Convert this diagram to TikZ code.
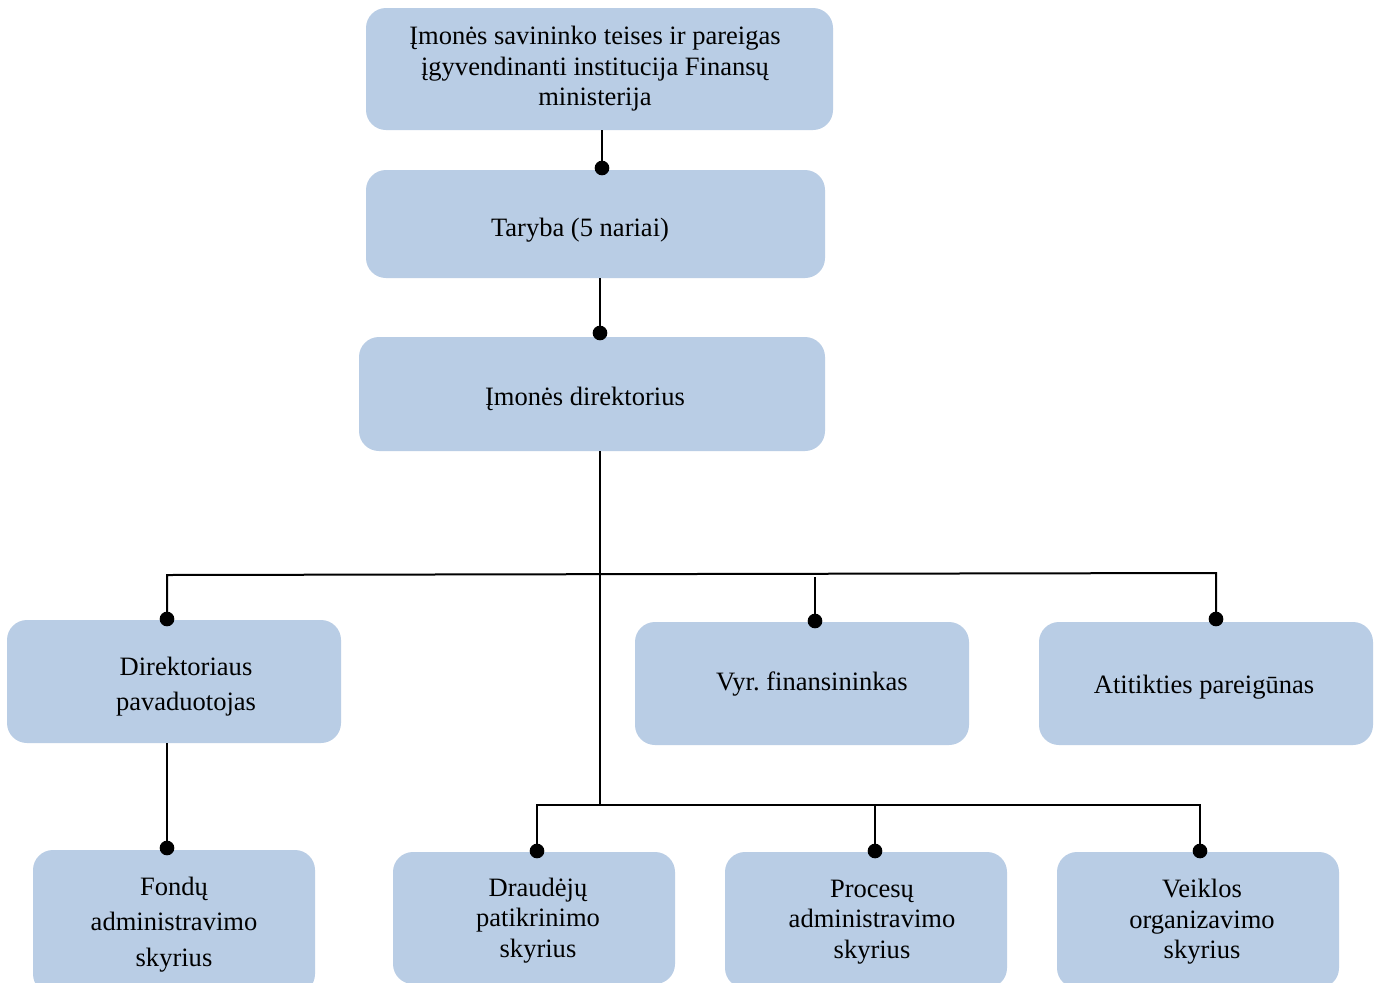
\documentclass[tikz,border=0pt]{standalone}
\usepackage{fontspec}
\setmainfont{Liberation Serif}
\frenchspacing
\definecolor{boxblue}{HTML}{B9CDE5}
\tikzset{
  box/.style={fill=boxblue, draw=none, rounded corners=15pt, inner sep=0pt},
  lbl/.style={align=center, inner sep=0pt, font=\fontsize{19.9}{22.9}\selectfont},
  lblw/.style={align=center, inner sep=0pt, font=\fontsize{19.9}{26.5}\selectfont},
  conn/.style={line width=1.5pt},
  dot/.style={circle, fill=black, minimum size=11pt, inner sep=0pt}
}
\begin{document}
\begin{tikzpicture}[x=0.75pt, y=-0.75pt]
\clip (0,0) rectangle (1377,982);
\fill[white] (0,0) rectangle (1377,982);
% boxes
\node[box, minimum width=350.25pt, minimum height=91.5pt] (b1) at (599.5,69) {};
\node[box, minimum width=344.25pt, minimum height=81pt] (b2) at (595.5,224) {};
\node[box, minimum width=349.5pt, minimum height=85.5pt] (b3) at (592,394) {};
\node[box, minimum width=250.5pt, minimum height=92.25pt] (b4) at (174,681.5) {};
\node[box, minimum width=250.5pt, minimum height=92.25pt] (b5) at (802,683.5) {};
\node[box, minimum width=250.5pt, minimum height=92.25pt] (b6) at (1206,683.5) {};
\node[box, minimum width=211.5pt, minimum height=108pt] (b7) at (174,922) {};
\node[box, minimum width=211.5pt, minimum height=99pt] (b8) at (534,918) {};
\node[box, minimum width=211.5pt, minimum height=102pt] (b9) at (866,920) {};
\node[box, minimum width=211.5pt, minimum height=102pt] (b10) at (1198,920) {};
% texts
\node[lbl] (t1) at (595,69) {Įmonės savininko teises ir pareigas\\įgyvendinanti institucija Finansų\\ministerija};
\node[lbl] (t2) at (580,230) {Taryba (5 nariai)};
\node[lbl] (t3) at (585,399) {Įmonės direktorius};
\node[lblw] (t4) at (186,686.5) {Direktoriaus\\pavaduotojas};
\node[lbl] (t5) at (812,684) {Vyr. finansininkas};
\node[lbl] (t6) at (1204,687) {Atitikties pareigūnas};
\node[lblw] (t7) at (174,924.5) {Fondų\\administravimo\\skyrius};
\node[lbl] (t8) at (538,920.5) {Draudėjų\\patikrinimo\\skyrius};
\node[lbl] (t9) at (872,922) {Procesų\\administravimo\\skyrius};
\node[lbl] (t10) at (1202,922) {Veiklos\\organizavimo\\skyrius};
% dots
\node[dot] (d1) at (602,168) {};
\node[dot] (d2) at (600,333) {};
\node[dot] (d4) at (167,619) {};
\node[dot] (d5) at (815,621) {};
\node[dot] (d6) at (1216,619) {};
\node[dot] (d7) at (167,848) {};
\node[dot] (d8) at (537,851) {};
\node[dot] (d9) at (875,851) {};
\node[dot] (d10) at (1200,851) {};
% bus coordinates
\coordinate (uL) at (167,575);
\coordinate (uR) at (1216,573);
\coordinate (uM) at (815,577);
\coordinate (lC) at (600,805);
\coordinate (lL) at (537,805);
\coordinate (lR) at (1200,805);
% connectors
\draw[conn] (b1.south -| d1) -- (d1.center);
\draw[conn] (b2.south -| d2) -- (d2.center);
\draw[conn] (b3.south -| lC) -- (lC);
\draw[conn] (d4.center) -- (uL) -- (uR) -- (d6.center);
\draw[conn] (uM) -- (d5.center);
\draw[conn] (b4.south -| d7) -- (d7.center);
\draw[conn] (d8.center) -- (lL) -- (lR) -- (d10.center);
\draw[conn] (lC -| d9) -- (d9.center);
\end{tikzpicture}
\end{document}
